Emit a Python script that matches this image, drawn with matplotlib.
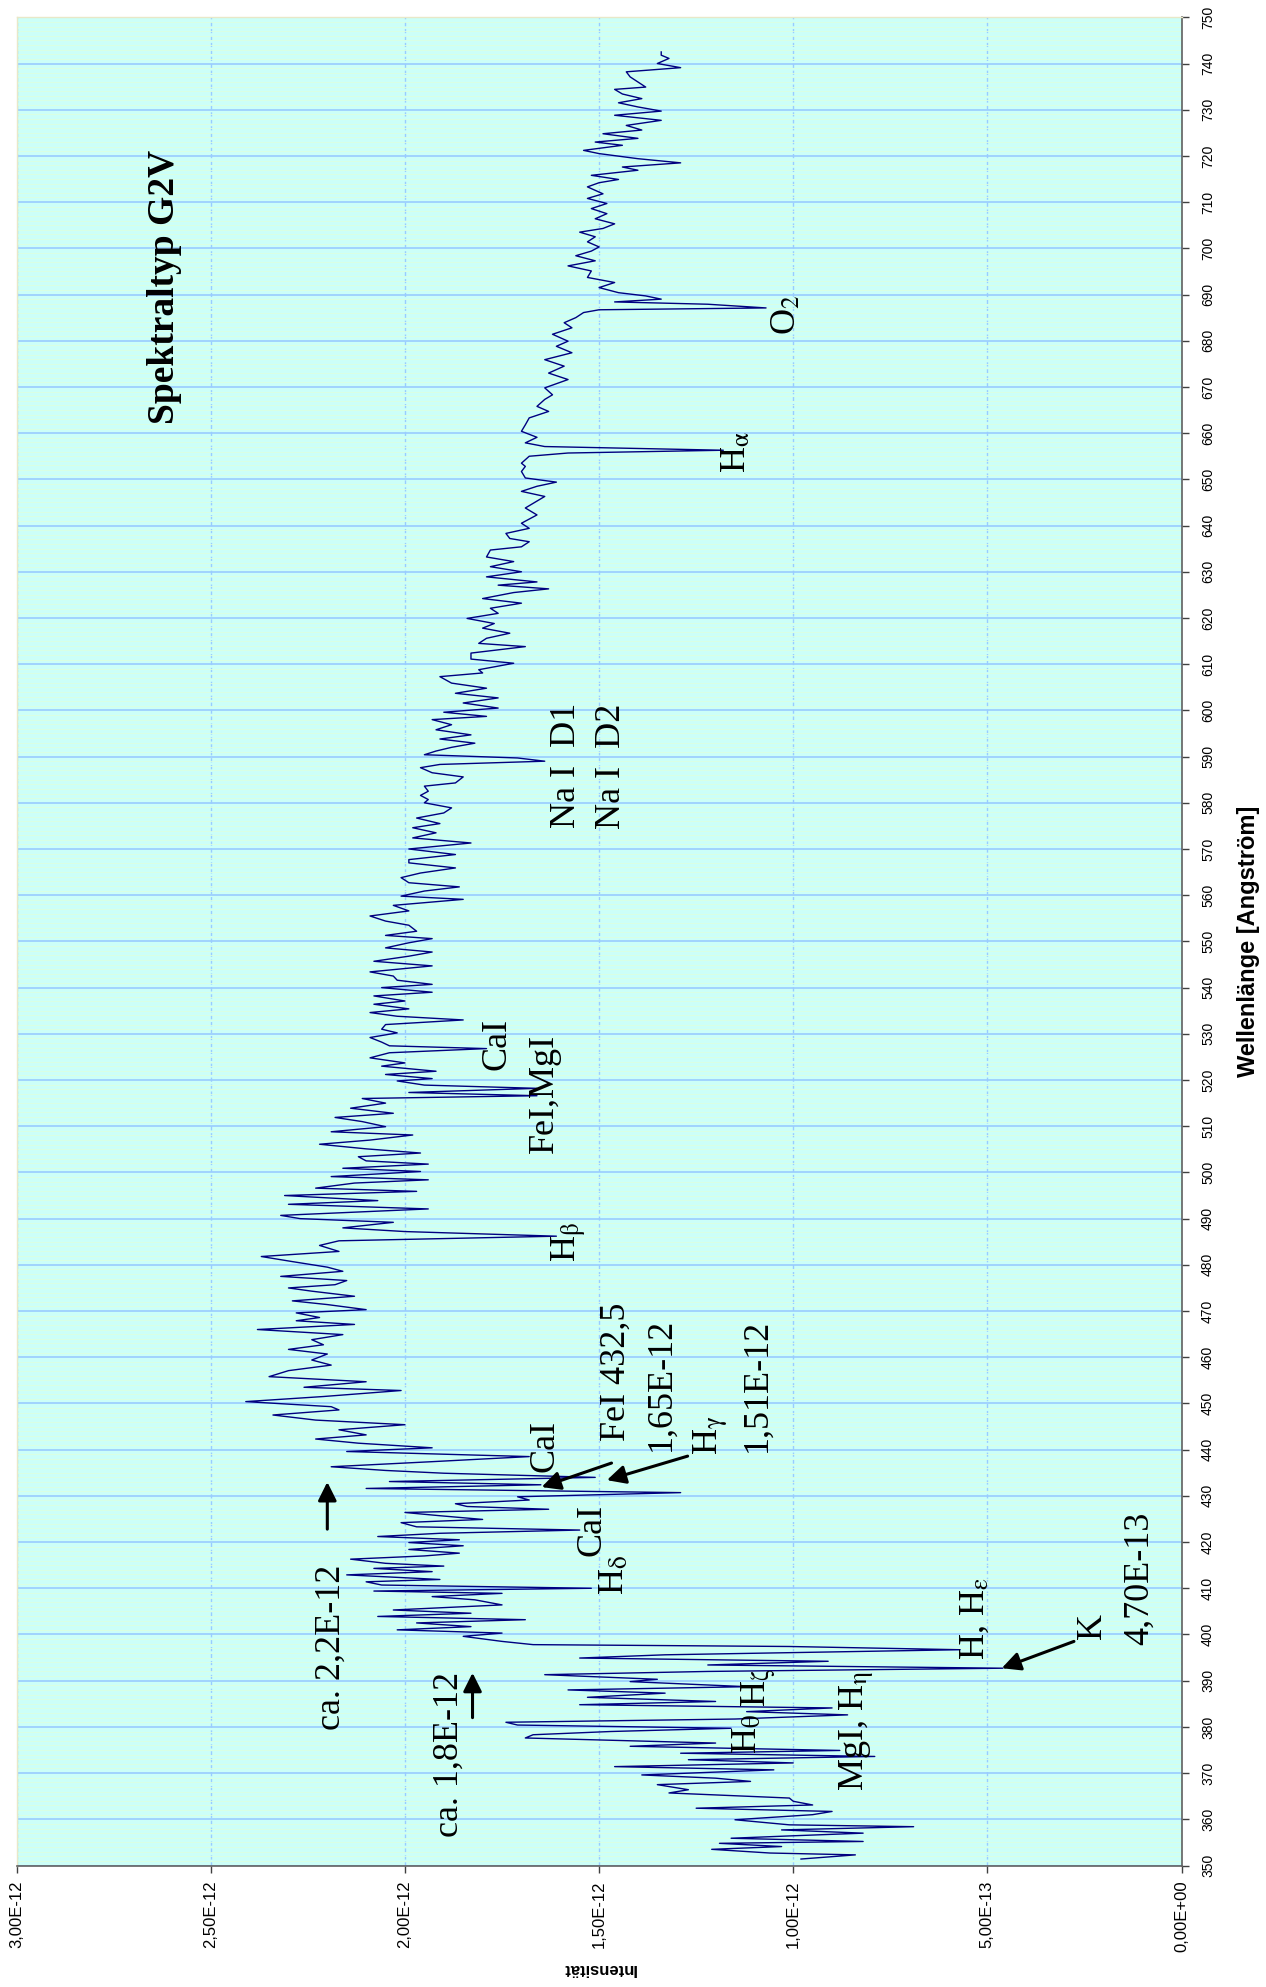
import numpy as np
import matplotlib
matplotlib.use('Agg')
import matplotlib.pyplot as plt
from matplotlib.ticker import FuncFormatter

# spectrum of a G2V star
wavelength = [
	351.4, 352.3, 352.7, 353.5, 354.1, 354.8, 355.2, 355.9, 356.4, 357.0,
	357.7, 358.4, 358.8, 359.9, 361.0, 361.7, 362.4, 363.1, 363.9, 364.6,
	365.7, 366.4, 367.5, 368.2, 368.9, 369.6, 370.7, 371.4, 372.2, 372.9,
	373.6, 374.3, 374.9, 375.8, 376.5, 377.6, 378.3, 379.0, 379.7, 380.4,
	381.0, 381.7, 382.6, 383.3, 384.1, 384.8, 385.5, 386.4, 387.3, 388.0,
	388.7, 389.8, 390.3, 391.3, 392.0, 392.7, 393.4, 394.2, 394.9, 395.6,
	396.7, 397.4, 397.8, 398.5, 399.6, 400.3, 401.0, 401.7, 402.5, 403.2,
	403.9, 404.6, 405.3, 406.4, 407.5, 408.2, 408.9, 409.4, 410.0,
	410.7, 411.4, 411.9, 412.9, 413.6, 414.3, 414.8, 415.4, 416.3, 417.0,
	417.6, 418.4, 419.2, 419.9, 420.5, 421.2, 421.9, 422.6, 423.3, 424.2,
	424.9, 425.7, 426.4, 427.1, 427.7, 428.3, 429.1, 429.8, 430.7, 431.6,
	432.4, 433.1, 434.0, 434.9, 435.5, 436.3, 437.4, 438.5, 439.6, 440.4,
	441.4, 442.3, 443.2, 444.3, 445.4, 446.4, 447.5, 448.6, 449.3, 450.4,
	451.5, 452.8, 453.5, 454.7, 455.8, 457.1, 458.3, 459.4,
	460.7, 461.7, 462.7, 463.8, 464.9, 466.0, 467.1, 467.9, 468.6, 469.6,
	470.3, 471.4, 472.2, 473.2, 474.3, 475.0, 475.7, 476.6, 477.5, 478.6,
	479.5, 480.7, 481.8, 482.9, 484.2, 485.2, 486.2, 487.2, 488.0, 489.2,
	490.0, 490.7, 492.1, 493.1, 493.9, 495.0, 495.9, 496.6, 497.7, 498.4,
	499.1, 500.2, 500.9, 501.8, 502.5, 503.4, 504.2, 505.1, 506.1, 507.0,
	508.1, 508.8, 509.9, 511.0, 511.9, 512.8, 513.9, 515.0, 516.0, 516.6,
	517.3, 518.2, 518.9, 519.8,
	520.3, 521.2, 521.9, 523.0, 523.7, 524.8, 525.9, 526.8, 527.4, 528.2,
	529.2, 530.2, 531.0, 532.0, 533.0, 533.8, 534.6, 535.4, 536.4, 537.1,
	538.2, 539.0, 540.0, 540.7, 541.6, 542.5, 543.4, 544.7, 545.7, 546.8,
	547.7, 548.6, 549.7, 550.6, 551.3, 552.2, 553.5, 554.4, 555.5, 556.6,
	557.8, 559.1, 559.8, 560.9, 561.8, 562.7, 563.8, 564.8, 565.9, 567.0,
	567.7, 568.8, 570.0, 571.3, 572.4, 573.5, 574.6, 575.5, 576.7, 577.8,
	578.9, 580.0,
	580.7, 581.6, 582.5, 583.6, 584.3, 585.6, 586.5, 587.6, 588.3, 589.0,
	589.7, 590.4, 591.2, 592.0, 592.9, 593.8, 594.7, 595.8, 596.9, 598.0,
	598.7, 599.6, 600.5, 601.6, 602.7, 603.7, 604.8, 605.9, 607.3, 608.1,
	608.8, 610.2, 611.1, 612.4, 613.8, 614.5, 615.6, 616.7, 617.8, 618.8,
	619.9, 621.0, 622.1, 623.2, 624.2, 625.5, 626.3, 627.1, 627.8, 628.9,
	630.0, 631.1, 632.2, 633.2, 634.7, 635.4, 636.5, 637.2, 638.3, 639.4,
	640.5, 642.3, 643.8, 644.8, 646.3, 647.4, 648.5, 649.4, 650.3, 651.7,
	652.8, 653.5, 655.0, 655.7, 656.3, 657.1, 657.9, 659.1, 660.4, 661.8,
	663.3, 664.7, 665.8, 667.3, 668.3, 669.8, 671.6, 673.0, 674.5, 675.9,
	677.4, 678.8, 679.9, 681.4, 682.8, 683.9, 685.0, 686.1, 686.7, 687.1,
	687.9, 688.4, 689.0, 689.7, 690.4, 691.5, 692.6, 693.7, 695.1, 696.2,
	697.3, 698.4, 699.4,
	700.3, 701.4, 702.5, 703.5, 704.3, 705.3, 706.4, 707.5, 708.6, 709.7,
	710.8, 711.8, 713.3, 714.2, 714.9, 715.8, 716.9, 717.6, 718.5, 719.4,
	720.5, 721.2, 722.3, 723.0, 723.8, 724.8, 725.6, 726.6, 727.7, 728.8,
	729.7, 730.6, 731.5, 732.4, 733.4, 734.4, 734.9, 736.0, 737.1, 738.2,
	739.1, 740.0, 741.1, 741.8, 742.5,
]

# intensity in units of 1E-12
intensity = [
	0.98, 0.84, 1.06, 1.21, 1.03, 1.19, 0.82, 1.16, 1.01, 0.82,
	1.03, 0.69, 1.01, 1.15, 0.95, 0.90, 1.25, 0.95, 1.00, 1.01,
	1.32, 1.27, 1.35, 1.11, 1.20, 1.39, 1.05, 1.46, 1.00, 1.27,
	0.79, 1.29, 0.88, 1.42, 1.20, 1.69, 1.67, 1.47, 1.16, 1.71,
	1.74, 1.15, 0.86, 1.12, 0.90, 1.55, 1.20, 1.53, 1.33, 1.58,
	1.12, 1.42, 1.35, 1.64, 1.22, 0.46, 1.22, 0.91, 1.55, 1.33,
	0.57, 1.01, 1.67, 1.75, 1.85, 1.75, 2.02, 1.83, 1.97, 1.69,
	2.07, 1.83, 2.03, 1.75, 1.82, 1.93, 1.75, 2.08, 1.52,
	2.06, 2.10, 1.91, 2.15, 1.93, 2.08, 1.90, 2.05, 2.14, 1.95,
	1.86, 1.99, 1.85, 1.99, 1.86, 2.07, 1.91, 1.55, 1.97, 2.01,
	1.80, 1.91, 2.00, 1.63, 1.84, 1.87, 1.68, 1.71, 1.29, 2.10,
	1.65, 2.04, 1.51, 1.90, 2.05, 2.19, 1.93, 1.68, 2.15, 1.93,
	2.12, 2.23, 2.10, 2.17, 2.00, 2.23, 2.34, 2.17, 2.19, 2.41,
	2.21, 2.01, 2.26, 2.10, 2.35, 2.30, 2.19, 2.24,
	2.20, 2.30, 2.21, 2.24, 2.16, 2.38, 2.13, 2.28, 2.22, 2.28,
	2.10, 2.20, 2.29, 2.13, 2.24, 2.30, 2.18, 2.15, 2.32, 2.16,
	2.20, 2.29, 2.37, 2.17, 2.22, 2.17, 1.61, 2.00, 2.16, 2.03,
	2.27, 2.32, 1.94, 2.30, 2.07, 2.31, 1.97, 2.23, 2.13, 1.94,
	2.19, 1.96, 2.16, 1.94, 2.10, 2.12, 1.96, 2.10, 2.22, 2.09,
	1.98, 2.19, 2.05, 2.11, 2.18, 2.03, 2.14, 2.05, 2.11, 1.66,
	1.99, 1.66, 1.95, 2.02,
	1.93, 2.05, 1.92, 2.06, 2.00, 2.09, 2.04, 1.79, 2.04, 2.06,
	2.09, 2.02, 2.06, 2.05, 1.85, 2.02, 2.09, 1.99, 2.08, 2.00,
	2.08, 1.93, 2.06, 1.93, 2.02, 2.03, 2.09, 1.93, 2.08, 1.99,
	1.93, 2.05, 1.99, 1.93, 2.05, 1.97, 1.99, 2.05, 2.09, 1.99,
	2.03, 1.85, 2.01, 1.95, 1.86, 1.99, 2.01, 1.96, 1.87, 1.99,
	1.99, 1.87, 1.99, 1.83, 1.98, 1.92, 1.98, 1.91, 1.97, 1.90,
	1.88, 1.95,
	1.94, 1.96, 1.94, 1.95, 1.87, 1.85, 1.93, 1.96, 1.91, 1.64,
	1.71, 1.95, 1.92, 1.88, 1.82, 1.91, 1.83, 1.92, 1.88, 1.93,
	1.79, 1.90, 1.76, 1.85, 1.76, 1.87, 1.79, 1.88, 1.91, 1.80,
	1.81, 1.72, 1.83, 1.83, 1.69, 1.81, 1.79, 1.73, 1.80, 1.77,
	1.84, 1.76, 1.78, 1.70, 1.80, 1.72, 1.63, 1.76, 1.66, 1.79,
	1.70, 1.78, 1.72, 1.79, 1.78, 1.70, 1.68, 1.73, 1.74, 1.68,
	1.70, 1.66, 1.69, 1.67, 1.64, 1.70, 1.66, 1.61, 1.69, 1.70,
	1.69, 1.70, 1.68, 1.58, 1.18, 1.64, 1.69, 1.66, 1.70, 1.69,
	1.68, 1.63, 1.66, 1.64, 1.62, 1.64, 1.58, 1.63, 1.59, 1.64,
	1.57, 1.61, 1.58, 1.62, 1.57, 1.59, 1.56, 1.54, 1.50, 1.07,
	1.22, 1.46, 1.34, 1.38, 1.45, 1.50, 1.46, 1.53, 1.52, 1.58,
	1.51, 1.56, 1.52,
	1.50, 1.53, 1.51, 1.55, 1.49, 1.46, 1.51, 1.48, 1.52, 1.48,
	1.53, 1.49, 1.53, 1.50, 1.45, 1.52, 1.40, 1.44, 1.29, 1.40,
	1.50, 1.54, 1.44, 1.51, 1.40, 1.49, 1.39, 1.43, 1.34, 1.46,
	1.34, 1.40, 1.45, 1.39, 1.44, 1.46, 1.38, 1.40, 1.42, 1.43,
	1.29, 1.35, 1.32, 1.34, 1.34,
]

x_ticks = [0, 0.5e-12, 1.0e-12, 1.5e-12, 2.0e-12, 2.5e-12, 3.0e-12]
y_ticks = list(range(350, 751, 10))

plt.rcParams['mathtext.fontset'] = 'stix'
serif = 'Liberation Serif'
sans = 'Liberation Sans'


def fmt_e(v, pos):
	return f"{v:.2E}".replace('.', ',')


def main():
	fig = plt.figure(figsize=(12.66, 19.87), dpi=100)
	W, H = 1266, 1987
	ax = fig.add_axes([16.7 / W, 1 - 1865.5 / H, (1181.5 - 16.7) / W, (1865.5 - 17.3) / H])
	ax.set_facecolor('#ccfff8')

	ax.plot(np.array(intensity) * 1e-12, wavelength, color='#000080', lw=1.0, zorder=3)

	ax.set_xlim(3e-12, 0)
	ax.set_ylim(350, 750)
	ax.set_xticks(x_ticks)
	ax.xaxis.set_major_formatter(FuncFormatter(fmt_e))
	ax.set_yticks(y_ticks)
	ax.set_yticks(np.arange(350, 751, 1), minor=True)
	ax.yaxis.tick_right()
	ax.yaxis.set_label_position('right')

	ax.set_axisbelow(True)
	ax.grid(which='minor', axis='y', color='#dcffe0', lw=0.6)
	ax.grid(which='major', axis='y', color='#99ccff', lw=1.2)
	ax.grid(which='major', axis='x', color='#99ccff', lw=1.0, ls=(0, (3, 2)))

	ax.tick_params(which='minor', length=0)
	ax.tick_params(axis='x', which='major', direction='out', length=5, width=1, color='#404040', pad=6,
				   labelsize=12, labelrotation=90)
	ax.tick_params(axis='y', which='major', direction='out', length=5, width=1, color='#404040', pad=9,
				   labelsize=10, labelrotation=90)
	for lab in ax.get_xticklabels() + ax.get_yticklabels():
		lab.set_fontfamily(sans)
	for lab in ax.get_yticklabels():
		lab.set_va('center')

	for s in ['bottom', 'right']:
		ax.spines[s].set_color('#606060')
		ax.spines[s].set_linewidth(1.2)
	for s in ['top', 'left']:
		ax.spines[s].set_color('#e8e8c8')
		ax.spines[s].set_linewidth(1.0)

	ax.set_xlabel('Intensität', rotation=180, fontfamily=sans, fontweight='bold', fontsize=12, labelpad=6)
	ax.set_ylabel('Wellenlänge [Angström]', rotation=90, fontfamily=sans, fontweight='bold', fontsize=17,
				  labelpad=16)

	# annotations (intensity in 1E-12, wavelength)
	def note(i, wl, txt, size=26, weight='normal'):
		ax.text(i * 1e-12, wl, txt, rotation=90, ha='center', va='center', fontfamily=serif,
				fontsize=size, fontweight=weight, zorder=4)

	def arrow(i0, wl0, i1, wl1):
		ax.annotate('', xy=(i1 * 1e-12, wl1), xytext=(i0 * 1e-12, wl0),
					arrowprops=dict(arrowstyle='-|>', color='black', lw=2.2, mutation_scale=28,
									shrinkA=0, shrinkB=0), zorder=4)

	note(2.62, 691.7, 'Spektraltyp G2V', size=27, weight='bold')
	note(2.19, 397.3, 'ca. 2,2E-12')
	arrow(2.20, 422.8, 2.20, 433.0)
	note(1.885, 374.1, 'ca. 1,8E-12')
	arrow(1.826, 382.0, 1.826, 391.7)
	note(1.64, 440.8, 'CaI')
	arrow(1.468, 437.1, 1.648, 431.9)
	note(1.457, 456.8, 'FeI 432,5')
	note(1.341, 454.2, '1,65E-12')
	arrow(1.272, 438.6, 1.48, 433.4)
	note(1.21, 443.2, r'H$_\mathrm{\gamma}$')
	note(1.094, 454.0, '1,51E-12')
	note(1.519, 422.6, 'CaI')
	note(1.46, 412.9, r'H$_\mathrm{\delta}$')
	note(0.532, 403.5, r'H, H$_\mathrm{\varepsilon}$')
	note(0.23, 401.9, 'K')
	arrow(0.277, 398.5, 0.463, 392.7)
	note(0.107, 412.2, '4,70E-13')
	note(1.086, 388.6, r'H$_\mathrm{\zeta}$')
	note(1.117, 378.5, r'H$_\mathrm{\theta}$')
	note(0.834, 379.1, r'MgI, H$_\mathrm{\eta}$')
	note(1.576, 485.0, r'H$_\mathrm{\beta}$')
	note(1.64, 517.2, 'FeI,MgI')
	note(1.764, 527.8, 'CaI')
	note(1.584, 588.0, 'Na I  D1')
	note(1.468, 588.0, 'Na I  D2')
	note(1.146, 655.9, r'H$_\mathrm{\alpha}$')
	note(1.017, 685.6, r'O$_2$')

	fig.savefig('out.png', dpi=100)


if __name__ == '__main__':
	main()
